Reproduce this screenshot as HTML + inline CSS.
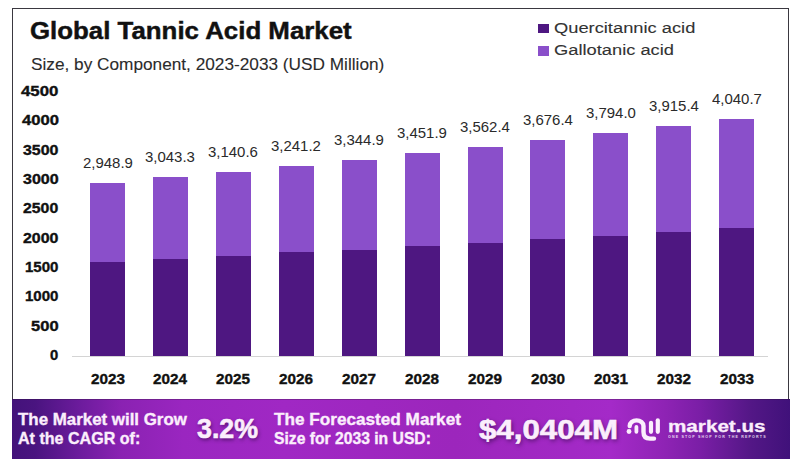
<!DOCTYPE html>
<html><head><meta charset="utf-8"><style>
html,body{margin:0;padding:0;background:#fff;}
body{width:800px;height:467px;position:relative;overflow:hidden;font-family:"Liberation Sans",sans-serif;}
.t{position:absolute;white-space:nowrap;transform-origin:0 0;}
.sq{position:absolute;width:10.4px;height:9.8px;}
.bar{position:absolute;width:35px;}
#frame{position:absolute;left:12px;top:8px;width:775px;height:392px;border:1px solid #3a3840;border-bottom:none;}
#ban{position:absolute;left:12px;top:399px;width:778px;height:60px;
background:linear-gradient(90deg,#43127a 0%,#4a1480 3%,#6e1c9e 9%,#8a22b2 14%,#9a26c0 22%,#a028c4 35%,#9c26bc 57%,#a42ac8 77%,#8e23b4 84%,#7a1ea6 88.5%,#531786 95%,#40117a 100%);}
</style></head><body>
<div id="frame"></div>
<div class="t" style="left:30.10px;top:19.28px;font-size:24.6px;line-height:24.6px;letter-spacing:0.00px;transform:scaleX(1.0508);color:#111;font-weight:700;-webkit-text-stroke:0.45px #111;">Global Tannic Acid Market</div>
<div class="t" style="left:31.30px;top:55.81px;font-size:17px;line-height:17px;letter-spacing:0.00px;transform:scaleX(1.0133);color:#2b2b2b;-webkit-text-stroke:0.1px #2b2b2b;">Size, by Component, 2023-2033 (USD Million)</div>
<div class="sq" style="left:538.3px;top:23.5px;background:#4e1781"></div>
<div class="sq" style="left:538.3px;top:45.8px;background:#8a4fca"></div>
<div class="t" style="left:554.40px;top:19.78px;font-size:15.5px;line-height:15.5px;letter-spacing:0.00px;transform:scaleX(1.1801);color:#333;-webkit-text-stroke:0.1px #333;">Quercitannic acid</div>
<div class="t" style="left:554.40px;top:42.08px;font-size:15.5px;line-height:15.5px;letter-spacing:0.00px;transform:scaleX(1.1802);color:#333;-webkit-text-stroke:0.1px #333;">Gallotanic acid</div>
<div class="t" style="left:50.30px;top:348.11px;font-size:14px;line-height:14px;letter-spacing:0.00px;transform:scaleX(1.0553);color:#111;font-weight:700;-webkit-text-stroke:0.35px #111;">0</div>
<div class="t" style="left:30.90px;top:318.78px;font-size:14px;line-height:14px;letter-spacing:0.00px;transform:scaleX(1.1805);color:#111;font-weight:700;-webkit-text-stroke:0.35px #111;">500</div>
<div class="t" style="left:25.00px;top:289.45px;font-size:14px;line-height:14px;letter-spacing:0.00px;transform:scaleX(1.0754);color:#111;font-weight:700;-webkit-text-stroke:0.35px #111;">1000</div>
<div class="t" style="left:25.00px;top:260.12px;font-size:14px;line-height:14px;letter-spacing:0.00px;transform:scaleX(1.0754);color:#111;font-weight:700;-webkit-text-stroke:0.35px #111;">1500</div>
<div class="t" style="left:23.00px;top:230.78px;font-size:14px;line-height:14px;letter-spacing:0.00px;transform:scaleX(1.1396);color:#111;font-weight:700;-webkit-text-stroke:0.35px #111;">2000</div>
<div class="t" style="left:23.30px;top:201.46px;font-size:14px;line-height:14px;letter-spacing:0.00px;transform:scaleX(1.1300);color:#111;font-weight:700;-webkit-text-stroke:0.35px #111;">2500</div>
<div class="t" style="left:22.80px;top:172.12px;font-size:14px;line-height:14px;letter-spacing:0.00px;transform:scaleX(1.1461);color:#111;font-weight:700;-webkit-text-stroke:0.35px #111;">3000</div>
<div class="t" style="left:23.00px;top:142.79px;font-size:14px;line-height:14px;letter-spacing:0.00px;transform:scaleX(1.1396);color:#111;font-weight:700;-webkit-text-stroke:0.35px #111;">3500</div>
<div class="t" style="left:21.50px;top:113.47px;font-size:14px;line-height:14px;letter-spacing:0.00px;transform:scaleX(1.1878);color:#111;font-weight:700;-webkit-text-stroke:0.35px #111;">4000</div>
<div class="t" style="left:21.10px;top:84.14px;font-size:14px;line-height:14px;letter-spacing:0.00px;transform:scaleX(1.2006);color:#111;font-weight:700;-webkit-text-stroke:0.35px #111;">4500</div>
<div style="position:absolute;left:72px;top:356px;width:696px;height:1px;background:#d4d4d4"></div>
<div class="bar" style="left:90.00px;top:182.90px;height:79.00px;background:#8a4fca"></div>
<div class="bar" style="left:90.00px;top:261.90px;height:94.10px;background:#4e1781"></div>
<div class="t" style="left:82.55px;top:154.80px;font-size:15px;line-height:15px;letter-spacing:0.00px;transform:scaleX(0.9975);color:#2a2a2a;">2,948.9</div>
<div class="t" style="left:90.50px;top:371.74px;font-size:14.6px;line-height:14.6px;letter-spacing:0.00px;transform:scaleX(1.0466);color:#111;font-weight:700;-webkit-text-stroke:0.35px #111;">2023</div>
<div class="bar" style="left:152.92px;top:177.36px;height:81.34px;background:#8a4fca"></div>
<div class="bar" style="left:152.92px;top:258.70px;height:97.30px;background:#4e1781"></div>
<div class="t" style="left:145.47px;top:149.26px;font-size:15px;line-height:15px;letter-spacing:0.00px;transform:scaleX(0.9975);color:#2a2a2a;">3,043.3</div>
<div class="t" style="left:153.42px;top:371.74px;font-size:14.6px;line-height:14.6px;letter-spacing:0.00px;transform:scaleX(1.0466);color:#111;font-weight:700;-webkit-text-stroke:0.35px #111;">2024</div>
<div class="bar" style="left:215.84px;top:171.65px;height:83.95px;background:#8a4fca"></div>
<div class="bar" style="left:215.84px;top:255.60px;height:100.40px;background:#4e1781"></div>
<div class="t" style="left:208.39px;top:143.55px;font-size:15px;line-height:15px;letter-spacing:0.00px;transform:scaleX(0.9975);color:#2a2a2a;">3,140.6</div>
<div class="t" style="left:216.34px;top:371.74px;font-size:14.6px;line-height:14.6px;letter-spacing:0.00px;transform:scaleX(1.0466);color:#111;font-weight:700;-webkit-text-stroke:0.35px #111;">2025</div>
<div class="bar" style="left:278.76px;top:165.74px;height:86.66px;background:#8a4fca"></div>
<div class="bar" style="left:278.76px;top:252.40px;height:103.60px;background:#4e1781"></div>
<div class="t" style="left:271.31px;top:137.64px;font-size:15px;line-height:15px;letter-spacing:0.00px;transform:scaleX(0.9975);color:#2a2a2a;">3,241.2</div>
<div class="t" style="left:279.26px;top:371.74px;font-size:14.6px;line-height:14.6px;letter-spacing:0.00px;transform:scaleX(1.0466);color:#111;font-weight:700;-webkit-text-stroke:0.35px #111;">2026</div>
<div class="bar" style="left:341.68px;top:159.65px;height:90.05px;background:#8a4fca"></div>
<div class="bar" style="left:341.68px;top:249.70px;height:106.30px;background:#4e1781"></div>
<div class="t" style="left:334.23px;top:131.56px;font-size:15px;line-height:15px;letter-spacing:0.00px;transform:scaleX(0.9975);color:#2a2a2a;">3,344.9</div>
<div class="t" style="left:342.18px;top:371.74px;font-size:14.6px;line-height:14.6px;letter-spacing:0.00px;transform:scaleX(1.0466);color:#111;font-weight:700;-webkit-text-stroke:0.35px #111;">2027</div>
<div class="bar" style="left:404.60px;top:153.37px;height:92.73px;background:#8a4fca"></div>
<div class="bar" style="left:404.60px;top:246.10px;height:109.90px;background:#4e1781"></div>
<div class="t" style="left:397.15px;top:125.28px;font-size:15px;line-height:15px;letter-spacing:0.00px;transform:scaleX(0.9975);color:#2a2a2a;">3,451.9</div>
<div class="t" style="left:405.10px;top:371.74px;font-size:14.6px;line-height:14.6px;letter-spacing:0.00px;transform:scaleX(1.0466);color:#111;font-weight:700;-webkit-text-stroke:0.35px #111;">2028</div>
<div class="bar" style="left:467.52px;top:146.89px;height:95.91px;background:#8a4fca"></div>
<div class="bar" style="left:467.52px;top:242.80px;height:113.20px;background:#4e1781"></div>
<div class="t" style="left:460.07px;top:118.79px;font-size:15px;line-height:15px;letter-spacing:0.00px;transform:scaleX(0.9975);color:#2a2a2a;">3,562.4</div>
<div class="t" style="left:468.02px;top:371.74px;font-size:14.6px;line-height:14.6px;letter-spacing:0.00px;transform:scaleX(1.0466);color:#111;font-weight:700;-webkit-text-stroke:0.35px #111;">2029</div>
<div class="bar" style="left:530.44px;top:140.20px;height:98.80px;background:#8a4fca"></div>
<div class="bar" style="left:530.44px;top:239.00px;height:117.00px;background:#4e1781"></div>
<div class="t" style="left:522.99px;top:112.10px;font-size:15px;line-height:15px;letter-spacing:0.00px;transform:scaleX(0.9975);color:#2a2a2a;">3,676.4</div>
<div class="t" style="left:530.94px;top:371.74px;font-size:14.6px;line-height:14.6px;letter-spacing:0.00px;transform:scaleX(1.0466);color:#111;font-weight:700;-webkit-text-stroke:0.35px #111;">2030</div>
<div class="bar" style="left:593.36px;top:133.29px;height:102.31px;background:#8a4fca"></div>
<div class="bar" style="left:593.36px;top:235.60px;height:120.40px;background:#4e1781"></div>
<div class="t" style="left:585.91px;top:105.19px;font-size:15px;line-height:15px;letter-spacing:0.00px;transform:scaleX(0.9975);color:#2a2a2a;">3,794.0</div>
<div class="t" style="left:593.86px;top:371.74px;font-size:14.6px;line-height:14.6px;letter-spacing:0.00px;transform:scaleX(1.0466);color:#111;font-weight:700;-webkit-text-stroke:0.35px #111;">2031</div>
<div class="bar" style="left:656.28px;top:126.17px;height:105.63px;background:#8a4fca"></div>
<div class="bar" style="left:656.28px;top:231.80px;height:124.20px;background:#4e1781"></div>
<div class="t" style="left:648.83px;top:98.07px;font-size:15px;line-height:15px;letter-spacing:0.00px;transform:scaleX(0.9975);color:#2a2a2a;">3,915.4</div>
<div class="t" style="left:656.78px;top:371.74px;font-size:14.6px;line-height:14.6px;letter-spacing:0.00px;transform:scaleX(1.0466);color:#111;font-weight:700;-webkit-text-stroke:0.35px #111;">2032</div>
<div class="bar" style="left:719.20px;top:118.81px;height:108.79px;background:#8a4fca"></div>
<div class="bar" style="left:719.20px;top:227.60px;height:128.40px;background:#4e1781"></div>
<div class="t" style="left:711.75px;top:90.71px;font-size:15px;line-height:15px;letter-spacing:0.00px;transform:scaleX(0.9975);color:#2a2a2a;">4,040.7</div>
<div class="t" style="left:719.70px;top:371.74px;font-size:14.6px;line-height:14.6px;letter-spacing:0.00px;transform:scaleX(1.0466);color:#111;font-weight:700;-webkit-text-stroke:0.35px #111;">2033</div>
<div id="ban"></div>
<div style="position:absolute;left:12px;top:399px;width:778px;height:1px;background:rgba(40,15,50,.3)"></div>
<div class="t" style="left:18.30px;top:411.95px;font-size:16.6px;line-height:16.6px;letter-spacing:0.00px;transform:scaleX(1.0176);color:#fbeefc;font-weight:700;-webkit-text-stroke:0.35px #fbeefc;">The Market will Grow</div>
<div class="t" style="left:18.30px;top:430.85px;font-size:16.6px;line-height:16.6px;letter-spacing:0.00px;transform:scaleX(0.9681);color:#fbeefc;font-weight:700;-webkit-text-stroke:0.35px #fbeefc;">At the CAGR of:</div>
<div class="t" style="left:197.00px;top:415.94px;font-size:27px;line-height:27px;letter-spacing:0.00px;transform:scaleX(0.9909);color:#fbeefc;font-weight:700;-webkit-text-stroke:0.6px #fbeefc;text-shadow:1px 2px 4px rgba(35,0,55,.6);">3.2%</div>
<div class="t" style="left:274.00px;top:411.95px;font-size:16.6px;line-height:16.6px;letter-spacing:0.00px;transform:scaleX(1.0340);color:#fbeefc;font-weight:700;-webkit-text-stroke:0.35px #fbeefc;">The Forecasted Market</div>
<div class="t" style="left:274.00px;top:430.85px;font-size:16.6px;line-height:16.6px;letter-spacing:0.00px;transform:scaleX(0.9453);color:#fbeefc;font-weight:700;-webkit-text-stroke:0.35px #fbeefc;">Size for 2033 in USD:</div>
<div class="t" style="left:478.90px;top:417.04px;font-size:27px;line-height:27px;letter-spacing:0.00px;transform:scaleX(1.1569);color:#fbeefc;font-weight:700;-webkit-text-stroke:0.6px #fbeefc;text-shadow:1px 2px 4px rgba(35,0,55,.6);">$4,0404M</div>
<div class="t" style="left:668.00px;top:417.71px;font-size:17px;line-height:17px;letter-spacing:0.00px;transform:scaleX(1.2151);color:#fbeefc;font-weight:700;-webkit-text-stroke:0.3px #fbeefc;">market.us</div>
<div class="t" style="left:668.00px;top:434.81px;font-size:4.0px;line-height:4.0px;letter-spacing:1.30px;transform:scaleX(0.9002);color:#fbeefc;font-weight:700;opacity:.85;">ONE STOP SHOP FOR THE REPORTS</div>
<svg style="position:absolute;left:0;top:0" width="800" height="467" viewBox="0 0 800 467">
<g fill="none" stroke="#fbeefc" stroke-linecap="round">
<path d="M629.7 426 A6.9 5.6 0 0 1 643.5 426 L643.5 432 Q643.5 438.6 650 438.6 L654 438.6" stroke-width="4.4"/>
<path d="M636.4 427 L636.4 431.8" stroke-width="3.8"/>
<path d="M651 422.8 L651 431.8" stroke-width="4.2"/>
<path d="M657.8 420.3 L657.8 431.8" stroke-width="4.2"/>
</g>
<circle cx="629" cy="431.5" r="2.4" fill="#fbeefc"/>
</svg>
</body></html>
